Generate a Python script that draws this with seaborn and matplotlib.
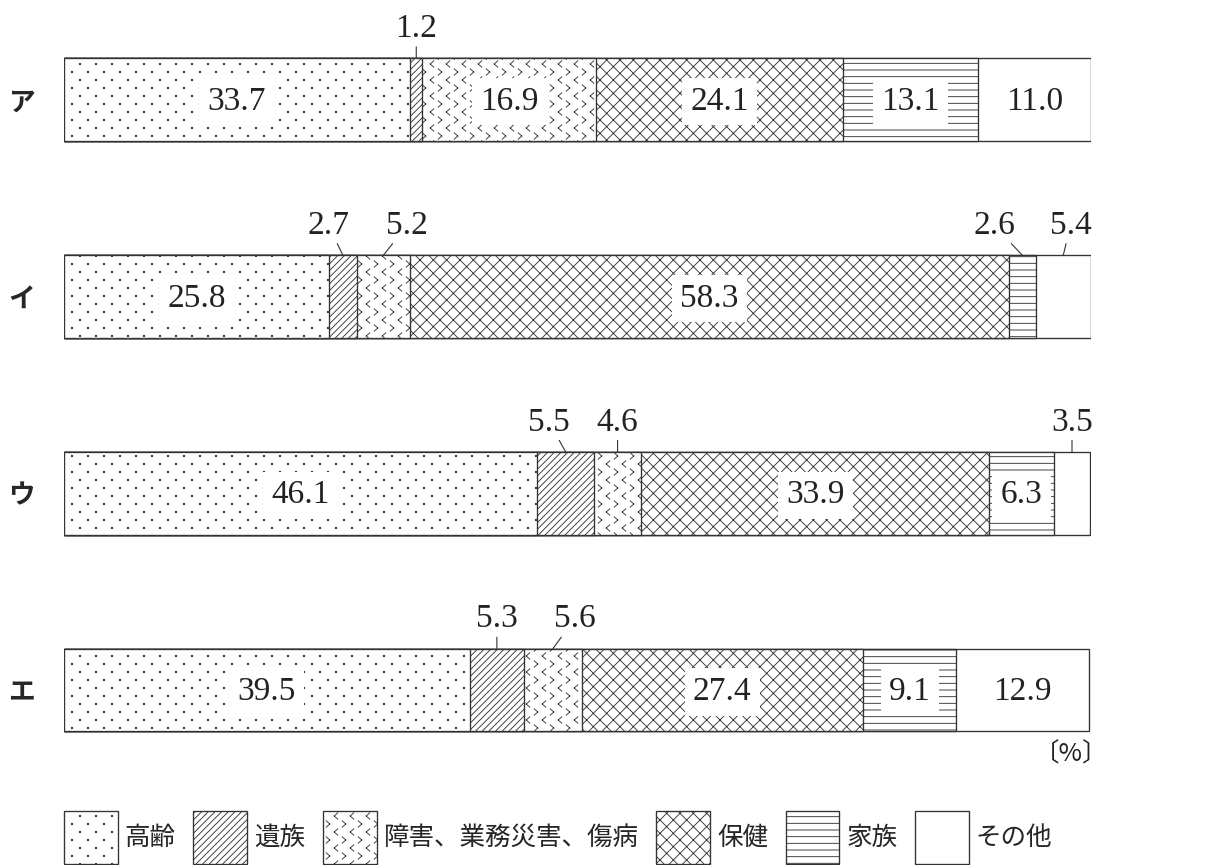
import numpy as np
import matplotlib
matplotlib.use('Agg')
import matplotlib.pyplot as plt
import matplotlib.patches as mpatches
import matplotlib.hatch as mhatch
from matplotlib.path import Path
import seaborn as sns

cats = ['ア', 'イ', 'ウ', 'エ']
names = ['高齢', '遺族', '障害、業務災害、傷病', '保健', '家族', 'その他']
kourei = [33.7, 25.8, 46.1, 39.5]
izoku = [1.2, 2.7, 5.5, 5.3]
shogai = [16.9, 5.2, 4.6, 5.6]
hoken = [24.1, 58.3, 33.9, 27.4]
kazoku = [13.1, 2.6, 6.3, 9.1]
sonota = [11.0, 5.4, 3.5, 12.9]
series = [kourei, izoku, shogai, hoken, kazoku, sonota]

# small values written above the bar with a leader line: (row, segment) -> x shift of the label
callouts = {(0, 1): 0.0, (1, 1): -1.4, (1, 2): 2.3, (1, 4): -2.7, (1, 5): 0.7,
            (2, 1): -1.6, (2, 2): 0.0, (2, 5): 0.0, (3, 1): 0.0, (3, 2): 2.1}

EDGE = '#333333'


# --- two hatch patterns matplotlib does not ship: sparse staggered dots and the wavy "< >" one
class DotHatch(mhatch.HatchPatternBase):
    def __init__(self, hatch, density):
        n = hatch.count('o')
        pts = []
        if n:
            rows = 10 * n
            cols = rows // 2
            for i in range(rows + 1):
                xs = np.arange(cols + 1) / cols if i % 2 == 0 else (np.arange(cols) + 0.5) / cols
                pts += [(x, i / rows) for x in xs]
        circ = Path.unit_circle()
        self.pts = pts
        self.cv, self.cc = circ.vertices * 0.009, circ.codes
        self.num_vertices = len(pts) * len(self.cv)

    def set_vertices_and_codes(self, vertices, codes):
        k = len(self.cv)
        for i, p in enumerate(self.pts):
            vertices[i * k:(i + 1) * k] = self.cv + p
            codes[i * k:(i + 1) * k] = self.cc


class ZigzagHatch(mhatch.HatchPatternBase):
    def __init__(self, hatch, density):
        n = hatch.count('*')
        segs = []
        if n:
            ncols, nrows = 10 * n, 5 * n
            w, h = 0.045, 0.08
            for j in range(ncols + 1):
                x = j / ncols
                sgn = 1 if j % 2 == 0 else -1
                shift = 0 if j % 2 == 0 else 0.5 / nrows
                for k in range(-1, nrows + 1):
                    y = k / nrows + shift
                    tip = (x - sgn * w / 2, y)
                    segs.append([(x + sgn * w / 2, y + h / 2), tip])
                    segs.append([tip, (x + sgn * w / 2, y - h / 2)])
        self.segs = np.array(segs, dtype=float)
        self.num_vertices = len(segs) * 2

    def set_vertices_and_codes(self, vertices, codes):
        vertices[:] = self.segs.reshape(-1, 2)
        codes[0::2] = Path.MOVETO
        codes[1::2] = Path.LINETO


mhatch._hatch_types = [mhatch.HorizontalHatch, mhatch.VerticalHatch,
                       mhatch.NorthEastHatch, mhatch.SouthEastHatch,
                       DotHatch, ZigzagHatch]
hatches = ['o', '////', '*', 'xx', '--', '']

sns.set_style('white')
plt.rcParams['font.family'] = ['Noto Sans CJK JP', 'DejaVu Sans']
plt.rcParams['hatch.color'] = EDGE
plt.rcParams['hatch.linewidth'] = 0.8

fig = plt.figure(figsize=(15.25, 10.8125), dpi=80)
ax = fig.add_axes([64 / 1220, 0.0885, 1027 / 1220, 0.910])

cum = np.cumsum(np.array(series), axis=0)
for i in reversed(range(len(series))):
    sns.barplot(x=cum[i], y=cats, orient='h', color='white', saturation=1,
                edgecolor=EDGE, linewidth=1.2, hatch=hatches[i], width=0.42,
                errorbar=None, ax=ax)

lab = dict(family='Liberation Serif', fontsize=30, color='#222222')
for r in range(len(cats)):
    left = 0
    for s in range(len(series)):
        v = series[s][r]
        mid = left + v / 2
        if (r, s) in callouts:
            ax.annotate(f'{v:.1f}', xy=(mid, r - 0.21), xytext=(mid + callouts[(r, s)], r - 0.36),
                        ha='center', va='center',
                        arrowprops=dict(arrowstyle='-', color=EDGE, lw=1, shrinkA=0, shrinkB=0), **lab)
        else:
            ax.text(mid, r + 0.01, f'{v:.1f}', ha='center', va='center',
                    bbox=dict(boxstyle='square,pad=0.25', fc='white', ec='none'), **lab)
        left += v

ax.text(98.1, 3.33, '〔%〕', ha='center', va='center', fontsize=23, color='#222222')

ax.set_xlim(0, 100)
ax.set_ylim(3.5, -0.5)
ax.set_xticks([])
ax.set_yticks(range(len(cats)))
ax.set_yticklabels(cats, fontsize=24, fontweight='bold')
ax.tick_params(axis='y', length=0, pad=26)
ax.set_xlabel('')
ax.set_ylabel('')
sns.despine(left=True, bottom=True)

handles = [mpatches.Patch(facecolor='white', edgecolor=EDGE, linewidth=1.2, hatch=h, label=n)
           for h, n in zip(hatches, names)]
fig.legend(handles=handles, loc='upper left', bbox_to_anchor=(64 / 1220, 1 - 811 / 865),
           ncol=6, frameon=False, fontsize=23, handlelength=2.1, handleheight=2.8,
           handletextpad=0.27, columnspacing=0.7, borderpad=0, borderaxespad=0)

fig.savefig('out.png', dpi=80)
